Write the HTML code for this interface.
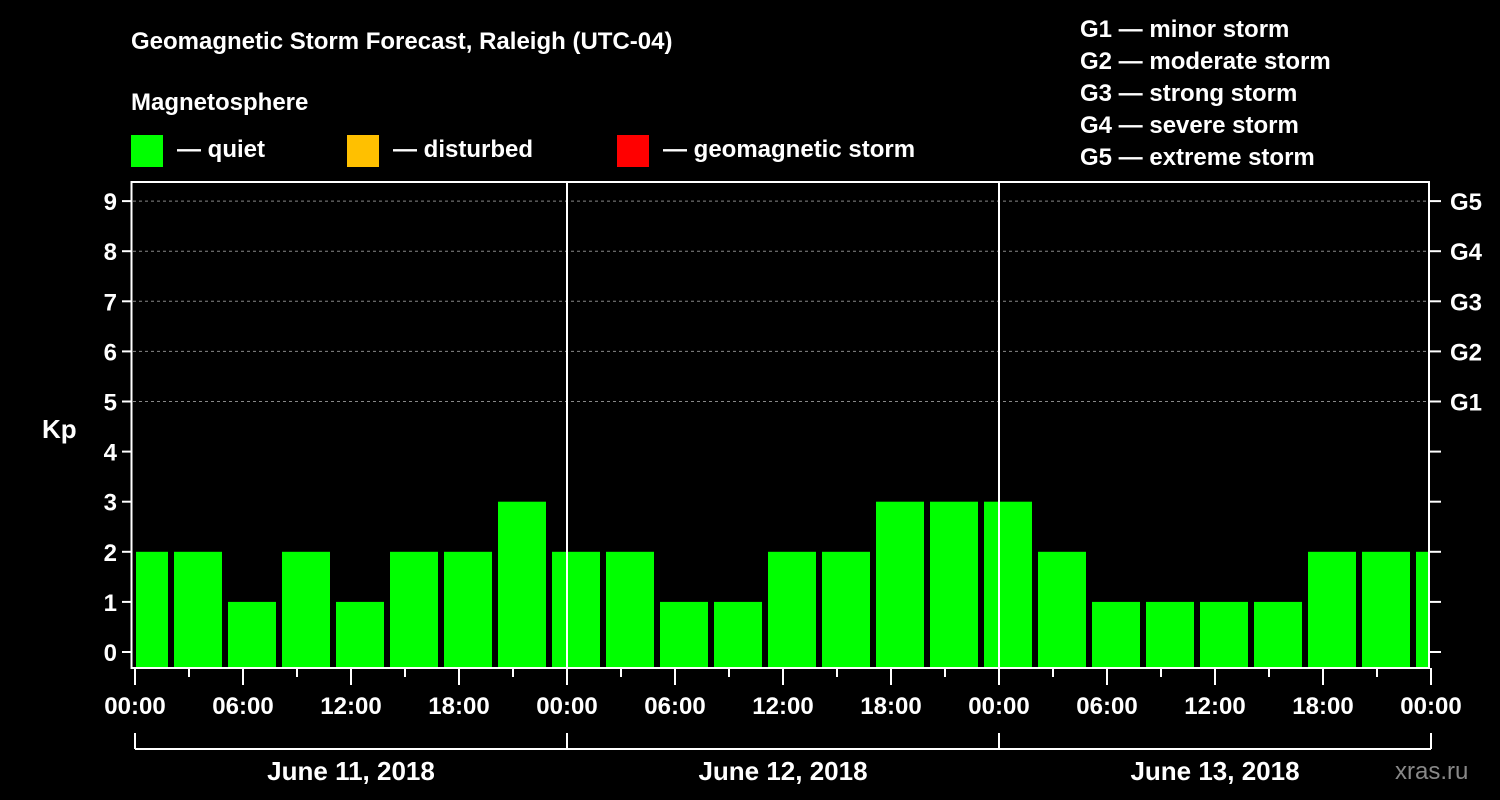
<!DOCTYPE html>
<html><head><meta charset="utf-8"><style>
html,body{margin:0;padding:0;background:#000;}
svg{display:block;font-family:"Liberation Sans",sans-serif;font-weight:bold;}
</style></head><body>
<svg id="chart" width="1500" height="800" viewBox="0 0 1500 800">
<text x="131" y="49" fill="#fff" font-size="24">Geomagnetic Storm Forecast, Raleigh (UTC-04)</text>
<text x="131" y="110" fill="#fff" font-size="24">Magnetosphere</text>
<g><rect x="131" y="135" width="32" height="32" fill="#00ff00"/><text x="177" y="157" fill="#fff" font-size="24">— quiet</text></g>
<g><rect x="347" y="135" width="32" height="32" fill="#ffc000"/><text x="393" y="157" fill="#fff" font-size="24">— disturbed</text></g>
<g><rect x="617" y="135" width="32" height="32" fill="#ff0000"/><text x="663" y="157" fill="#fff" font-size="24">— geomagnetic storm</text></g>
<g fill="#fff" font-size="24">
<text x="1080" y="37">G1 — minor storm</text><text x="1080" y="69">G2 — moderate storm</text><text x="1080" y="101">G3 — strong storm</text><text x="1080" y="133">G4 — severe storm</text><text x="1080" y="165">G5 — extreme storm</text>
</g>
<text x="42" y="438" fill="#fff" font-size="26">Kp</text>
<text x="1395" y="779" fill="#888" font-size="24" font-weight="normal">xras.ru</text>
<g id="grid"></g><g id="bars"></g><g id="axes"></g>
</svg>
<script>
const kpValues = [2,2,1,2,1,2,2,3, 2,2,1,1,2,2,3,3, 3,2,1,1,1,1,2,2, 2];
const startHour = -1;
const binHours = 3;
const yTicks = [0,1,2,3,4,5,6,7,8,9];
const gLabels = ["G1","G2","G3","G4","G5"];
const timeLabels = ["00:00","06:00","12:00","18:00"];
const dayLabels = ["June 11, 2018","June 12, 2018","June 13, 2018"];

const NS="http://www.w3.org/2000/svg";
const X0=135, PXH=18, X1=X0+72*PXH, TOP=182, BOT=668;
const xs=h=>X0+h*PXH;
const ys=v=>652-v*50.1;
function mk(tag,attrs,parent,text){const e=document.createElementNS(NS,tag);for(const k in attrs)e.setAttribute(k,attrs[k]);if(text!==undefined)e.textContent=text;document.getElementById(parent).appendChild(e);return e;}

// grid lines for storm levels
for(let i=0;i<gLabels.length;i++){
  const v=5+i;
  const l=mk('line',{x1:X0-2,x2:X1-2,y1:ys(v),y2:ys(v),stroke:'#888','stroke-dasharray':'3,3','stroke-width':1},'grid');
  
  
}
// bars
kpValues.forEach((v,i)=>{
  const h0=startHour+i*binHours;
  let x1=xs(h0)+3, x2=xs(h0+binHours)-3;
  x1=Math.max(x1,X0+1); x2=Math.min(x2,X1-3);
  const r=mk('rect',{x:x1,y:ys(v),width:x2-x1,height:BOT-ys(v),fill:'#00ff00'},'bars');
  
  
});
// axes frame
const fr=mk('rect',{x:131.5,y:TOP,width:X1-2-131.5,height:BOT-TOP,fill:'none',stroke:'#fff','stroke-width':2},'axes');


// day separators
for(let d=1;d<3;d++){
  const l=mk('line',{x1:xs(24*d),x2:xs(24*d),y1:TOP,y2:BOT,stroke:'#fff','stroke-width':2},'axes');
  
  
}
// y ticks
yTicks.forEach(v=>{
  const y=ys(v);
  mk('line',{x1:122,x2:131,y1:y,y2:y,stroke:'#fff','stroke-width':2},'axes');
  mk('line',{x1:X1-2,x2:X1+10,y1:y,y2:y,stroke:'#fff','stroke-width':2},'axes');
  const t=mk('text',{x:117,y:y+9,fill:'#fff','font-size':24,'text-anchor':'end'},'axes',String(v));
  
  
});
gLabels.forEach((g,i)=>{
  const t=mk('text',{x:1450,y:ys(5+i)+9,fill:'#fff','font-size':24},'axes',g);
  
  
});
// x ticks
for(let h=0;h<=72;h+=3){
  const major=h%6===0;
  mk('line',{x1:xs(h),x2:xs(h),y1:BOT,y2:major?685:677,stroke:'#fff','stroke-width':2},'axes');
  if(major){
    const lab=h===72?timeLabels[0]:timeLabels[(h%24)/6];
    const t=mk('text',{x:xs(h),y:714,fill:'#fff','font-size':24,'text-anchor':'middle'},'axes',lab);
    
    
  }
}
// date bracket
mk('line',{x1:xs(0),x2:xs(72),y1:749,y2:749,stroke:'#fff','stroke-width':2},'axes');
for(let d=0;d<=3;d++) mk('line',{x1:xs(24*d),x2:xs(24*d),y1:733,y2:749,stroke:'#fff','stroke-width':2},'axes');
dayLabels.forEach((s,d)=>{
  const t=mk('text',{x:xs(24*d+12),y:780,fill:'#fff','font-size':26,'text-anchor':'middle'},'axes',s);
  
  
});
</script>
</body></html>
